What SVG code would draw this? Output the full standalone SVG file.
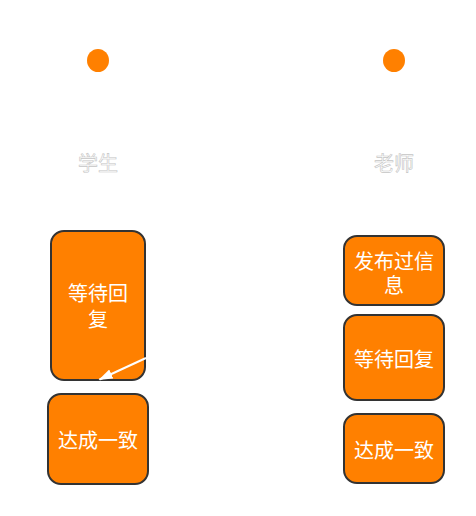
<svg xmlns="http://www.w3.org/2000/svg" width="476" height="516" viewBox="0 0 476 516">
<style>
.box{fill:#ff8000;stroke:#333;stroke-width:2}
.dot{fill:#ff8000}
.t{font-family:"Noto Sans CJK SC","Liberation Sans",sans-serif;font-size:20px;fill:#fff;text-anchor:middle;dominant-baseline:central}
.lbl{font-family:"Noto Sans CJK SC","Liberation Sans",sans-serif;font-size:20px;fill:#fff;stroke:#c4c4c4;stroke-width:0.6;text-anchor:middle;dominant-baseline:central}
</style>
<defs>
<marker id="ah" markerWidth="14" markerHeight="10" refX="13" refY="5" orient="auto" markerUnits="userSpaceOnUse">
<path d="M0,0 L14,5 L0,10 Z" fill="#fff"/>
</marker>
</defs>
<rect width="476" height="516" fill="#fff"/>
<g id="student">
<ellipse class="dot" cx="98" cy="60.5" rx="11" ry="11.5"/>
<text class="lbl" x="98" y="162">学生</text>
</g>
<g id="teacher">
<ellipse class="dot" cx="394" cy="60.5" rx="11" ry="11.5"/>
<text class="lbl" x="394" y="162">老师</text>
</g>
<g id="s-wait">
<rect class="box" x="51" y="231" width="94" height="149" rx="13"/>
<text class="t" x="98" y="292">等待回<tspan x="98" dy="26">复</tspan></text>
</g>
<g id="s-agree">
<rect class="box" x="48" y="394" width="100" height="90" rx="13"/>
<text class="t" x="98" y="439">达成一致</text>
</g>
<g id="t-publish">
<rect class="box" x="344" y="236" width="100" height="69" rx="13"/>
<text class="t" x="394" y="260">发布过信<tspan x="394" dy="24">息</tspan></text>
</g>
<g id="t-wait">
<rect class="box" x="344" y="315" width="100" height="85" rx="13"/>
<text class="t" x="394" y="358">等待回复</text>
</g>
<g id="t-agree">
<rect class="box" x="344" y="414" width="100" height="69" rx="13"/>
<text class="t" x="394" y="449">达成一致</text>
</g>
<g id="connectors">
<line x1="146" y1="358" x2="99.5" y2="379.5" stroke="#fff" stroke-width="2" marker-end="url(#ah)"/>
</g>
</svg>
